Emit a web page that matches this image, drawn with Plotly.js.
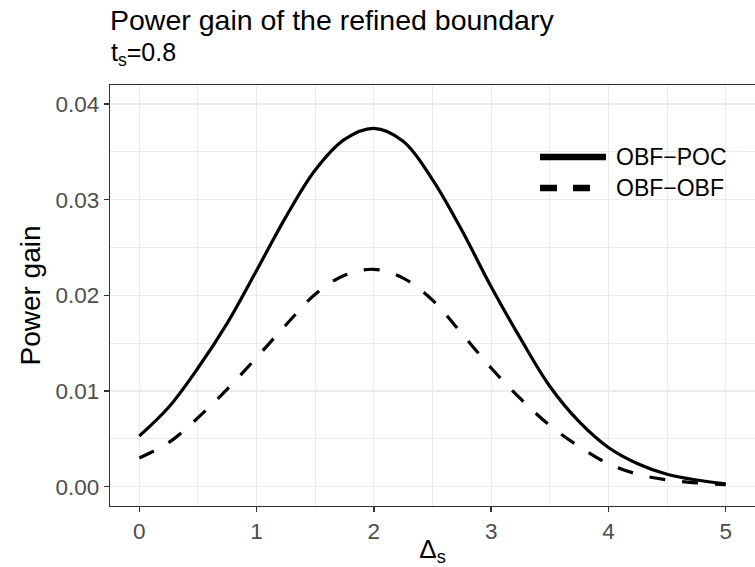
<!DOCTYPE html>
<html>
<head>
<meta charset="utf-8">
<script src="https://cdn.plot.ly/plotly-3.0.1.min.js"></script>
<style>
  html, body { margin: 0; padding: 0; background: #fff; }
  #chart { width: 755px; height: 567px; }
</style>
</head>
<body>
<div id="chart"></div>
<script>
// Delta_s values
const deltaS = [0, 0.25, 0.5, 0.75, 1, 1.25, 1.5, 1.75, 2, 2.25, 2.5, 2.75, 3, 3.25, 3.5, 3.75, 4, 4.25, 4.5, 4.75, 5];
// Power gain, OBF-POC (solid)
const gainOBFPOC = [0.0053, 0.0083, 0.0124, 0.0171, 0.0226, 0.0282, 0.0331, 0.0363, 0.03745, 0.0361, 0.0321, 0.0268, 0.0209, 0.0155, 0.0105, 0.0068, 0.0041, 0.0024, 0.0013, 0.0007, 0.0003];
// Power gain, OBF-OBF (dashed)
const gainOBFOBF = [0.0030, 0.0046, 0.0072, 0.0102, 0.0135, 0.0169, 0.0201, 0.0221, 0.02272, 0.0218, 0.0195, 0.0160, 0.0124, 0.0092, 0.0064, 0.0042, 0.0024, 0.0013, 0.0007, 0.0004, 0.0002];
const seriesNames = ["OBF\u2212POC", "OBF\u2212OBF"];
const xTicks = [0, 1, 2, 3, 4, 5];
const yTicks = [0, 0.01, 0.02, 0.03, 0.04];
const yTickLabels = ["0.00", "0.01", "0.02", "0.03", "0.04"];

const FONT = "Liberation Sans, Arial, Helvetica, sans-serif";

const traces = [
  {
    x: deltaS, y: gainOBFPOC, name: seriesNames[0], type: "scatter", mode: "lines",
    line: { color: "#000000", width: 3.2, shape: "spline", smoothing: 1 },
    showlegend: false, hoverinfo: "x+y"
  },
  {
    x: deltaS, y: gainOBFOBF, name: seriesNames[1], type: "scatter", mode: "lines",
    line: { color: "#000000", width: 3.2, dash: "16px,17px", shape: "spline", smoothing: 1 },
    showlegend: false, hoverinfo: "x+y"
  }
];

// manual legend (paper coords)
const L = 110, R = 755, T = 85, B = 506;
const px = v => (v - L) / (R - L);
const py = v => 1 - (v - T) / (B - T);

const layout = {
  width: 755, height: 567,
  margin: { l: 110, r: 0, t: 85, b: 61, pad: 0 },
  paper_bgcolor: "#ffffff",
  plot_bgcolor: "#ffffff",
  font: { family: FONT, color: "#000000" },
  title: {
    text: "Power gain of the refined boundary",
    font: { family: FONT, size: 28.5, color: "#000000" },
    xref: "container", x: 110 / 755, xanchor: "left",
    yref: "container", y: 1 - 10 / 567, yanchor: "top",
    pad: { t: 0, b: 0, l: 0, r: 0 }
  },
  xaxis: {
    range: [-0.25, 5.25],
    tickvals: xTicks, ticktext: xTicks.map(String),
    showline: true, mirror: true, linecolor: "#333333", linewidth: 1.3,
    ticks: "outside", ticklen: 5, tickwidth: 1.3, tickcolor: "#333333",
    tickfont: { family: FONT, size: 22.5, color: "#4D4D4D" },
    showgrid: true, gridcolor: "#EBEBEB", gridwidth: 1.2,
    minor: { tickvals: [0.5, 1.5, 2.5, 3.5, 4.5], showgrid: true, gridcolor: "#EBEBEB", gridwidth: 1, ticks: "" },
    zeroline: false,
    title: { text: "\u0394<sub>s</sub>", font: { family: FONT, size: 26, color: "#000000" }, standoff: 14 }
  },
  yaxis: {
    range: [-0.00202, 0.04198],
    tickvals: yTicks, ticktext: yTickLabels,
    showline: true, mirror: true, linecolor: "#333333", linewidth: 1.3,
    ticks: "outside", ticklen: 5, tickwidth: 1.3, tickcolor: "#333333",
    tickfont: { family: FONT, size: 22.5, color: "#4D4D4D" },
    showgrid: true, gridcolor: "#EBEBEB", gridwidth: 1.2,
    minor: { tickvals: [0.005, 0.015, 0.025, 0.035], showgrid: true, gridcolor: "#EBEBEB", gridwidth: 1, ticks: "" },
    zeroline: false,
    title: { text: "Power gain", font: { family: FONT, size: 28, color: "#000000" }, standoff: 6 }
  },
  shapes: [
    { type: "rect", xref: "paper", yref: "paper", x0: px(520), x1: px(733), y0: py(217), y1: py(120),
      fillcolor: "#ffffff", line: { width: 0 }, layer: "between" },
    { type: "line", xref: "paper", yref: "paper", x0: px(540), x1: px(606), y0: py(157), y1: py(157),
      line: { color: "#000000", width: 6.5 }, layer: "above" },
    { type: "line", xref: "paper", yref: "paper", x0: px(540), x1: px(606), y0: py(188), y1: py(188),
      line: { color: "#000000", width: 6.5, dash: "17px,16px" }, layer: "above" }
  ],
  annotations: [
    { text: "t<sub>s</sub>=0.8", xref: "paper", yref: "paper", x: -0.002, xanchor: "left",
      y: py(72), yanchor: "bottom", showarrow: false, align: "left",
      font: { family: FONT, size: 25, color: "#000000" } },
    { text: seriesNames[0], xref: "paper", yref: "paper", x: px(614), xanchor: "left",
      y: py(157), yanchor: "middle", showarrow: false,
      font: { family: FONT, size: 23, color: "#000000" } },
    { text: seriesNames[1], xref: "paper", yref: "paper", x: px(614), xanchor: "left",
      y: py(188), yanchor: "middle", showarrow: false,
      font: { family: FONT, size: 23, color: "#000000" } }
  ]
};

Plotly.newPlot("chart", traces, layout, { displayModeBar: false, staticPlot: true });
</script>
</body>
</html>
